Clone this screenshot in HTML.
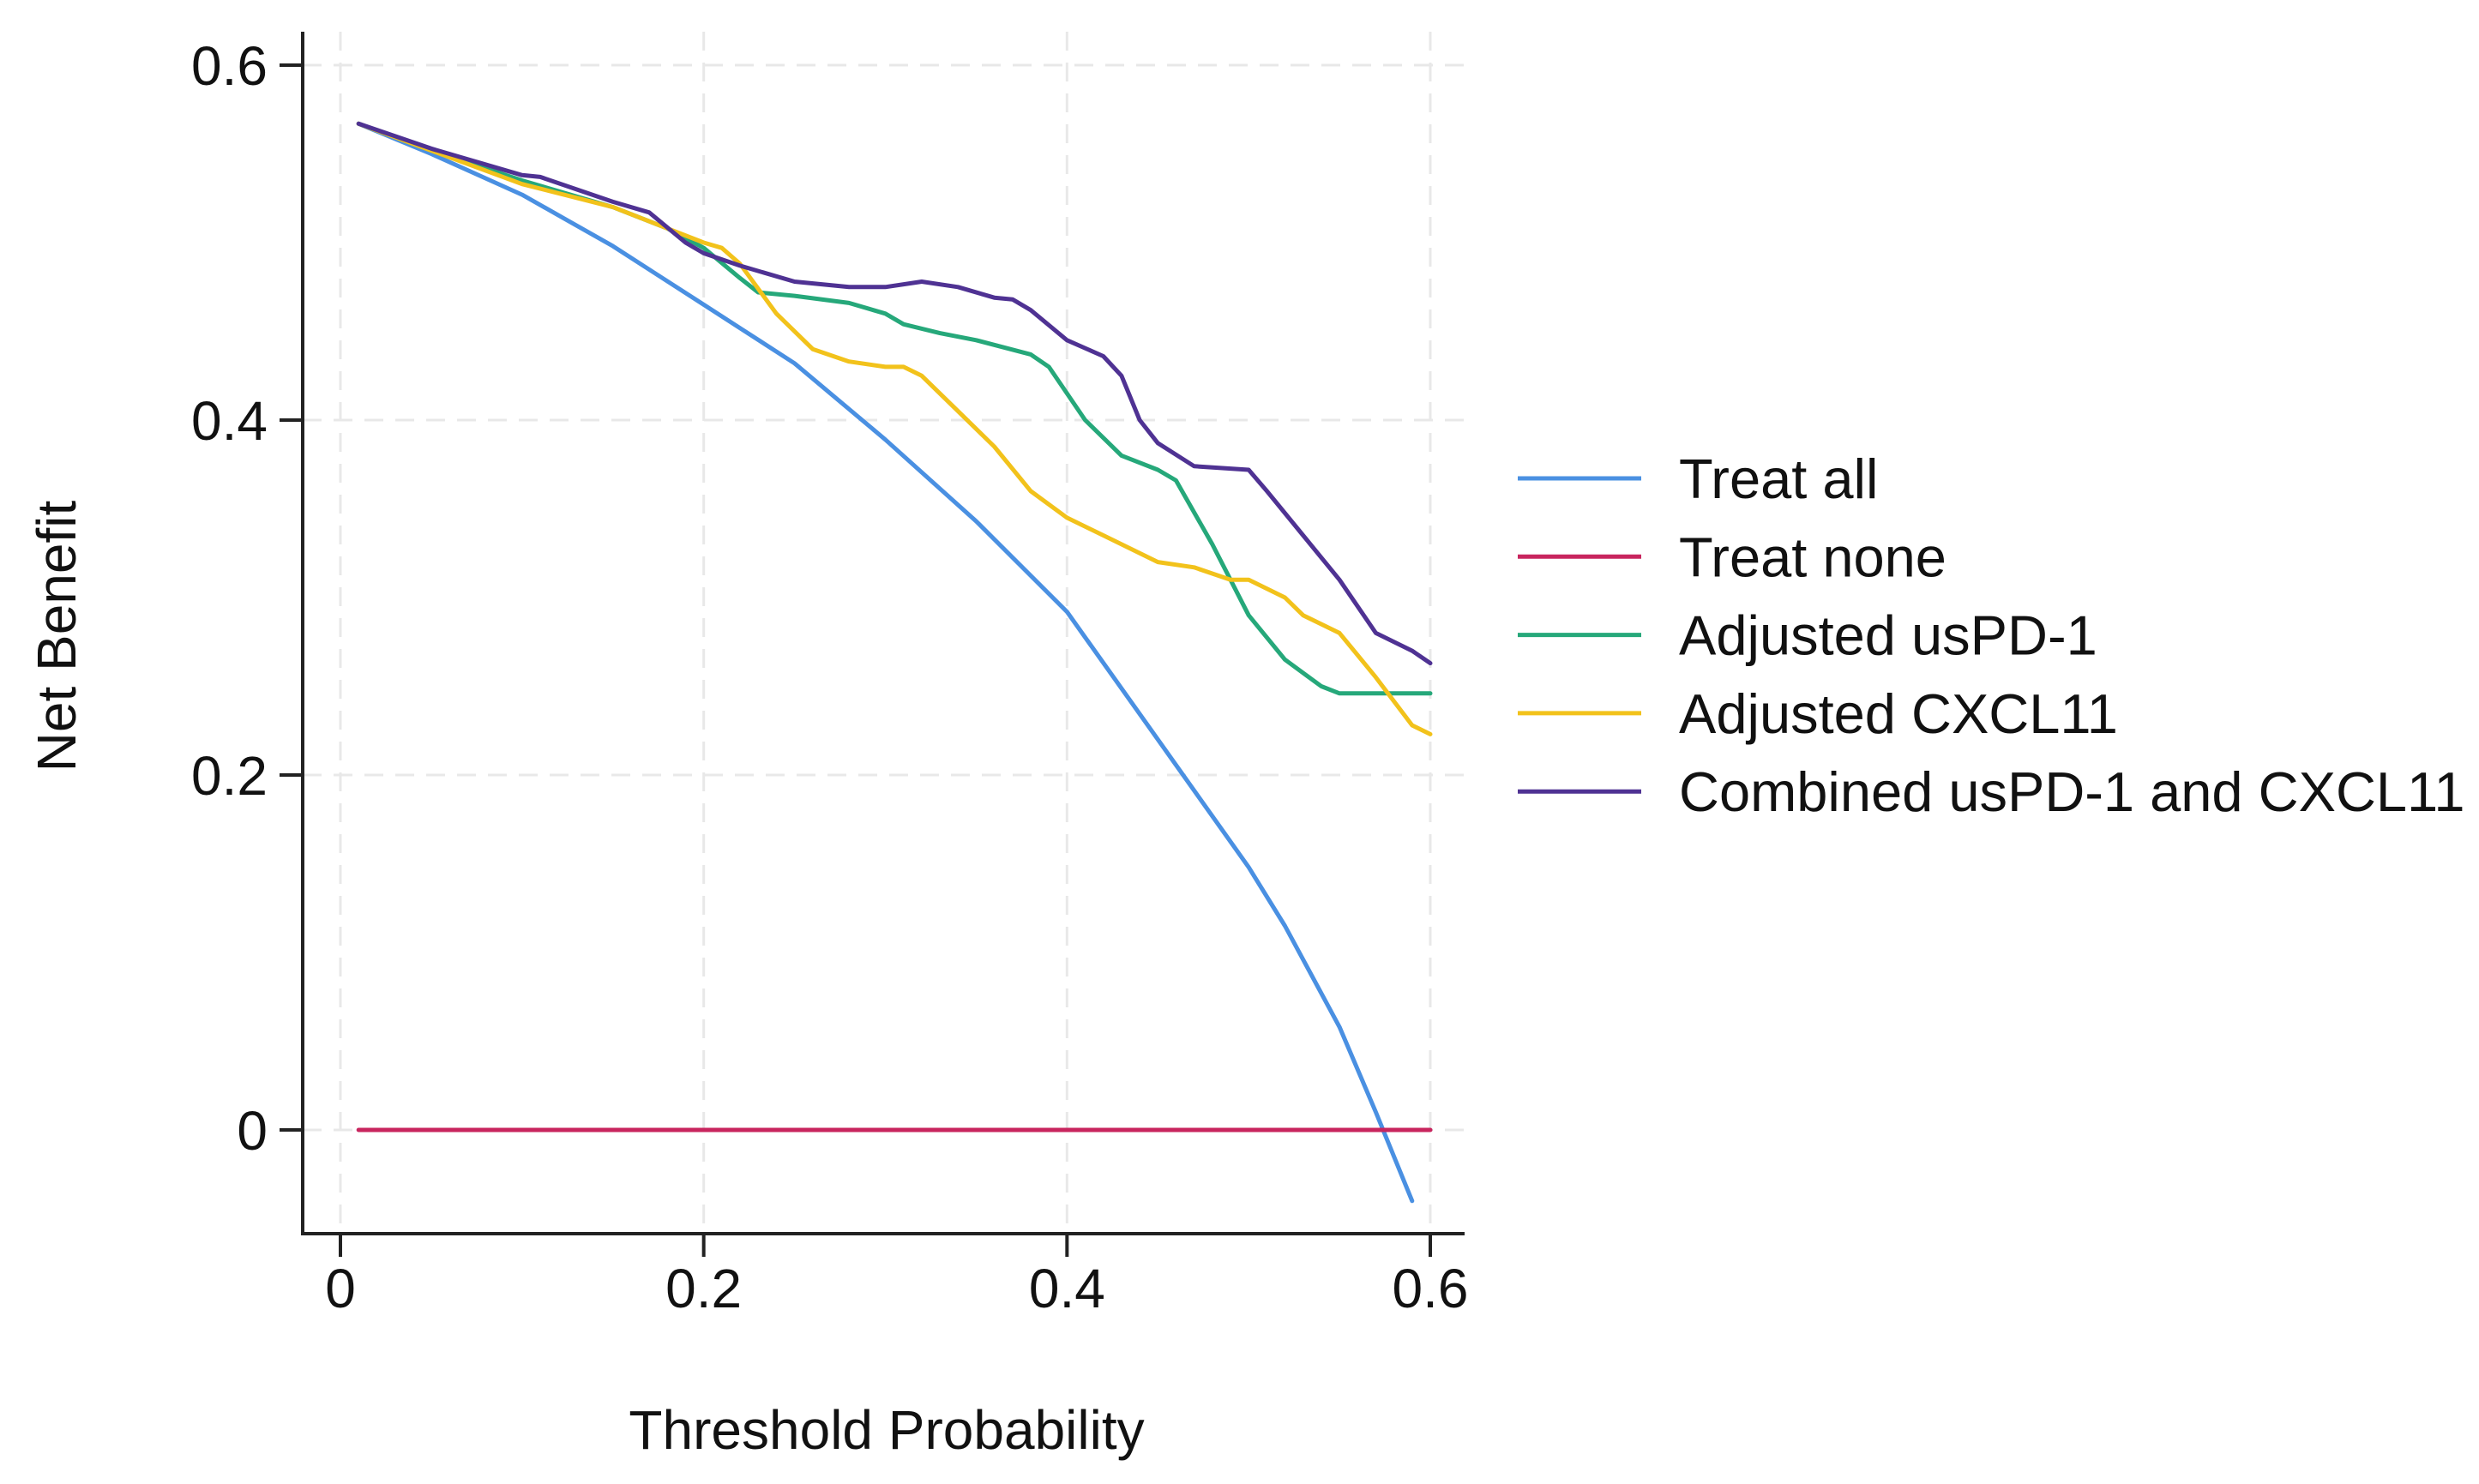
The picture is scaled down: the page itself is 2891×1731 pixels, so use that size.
<!DOCTYPE html>
<html><head><meta charset="utf-8"><style>
html,body{margin:0;padding:0;background:#fff;}
svg{display:block;font-family:"Liberation Sans",Arial,sans-serif;}
</style></head><body>
<svg id="chart" width="2891" height="1731" viewBox="0 0 2891 1731" xmlns="http://www.w3.org/2000/svg">
<rect width="2891" height="1731" fill="#fff"/>
<g id="grid"></g>
<g id="axes"></g>
<g id="series"></g>
<g id="legend"></g>
<text x="0" y="0" transform="translate(88,742) rotate(-90)" text-anchor="middle" font-size="64" fill="#111">Net Benefit</text>
<text x="1034" y="1690" text-anchor="middle" font-size="64" fill="#111">Threshold Probability</text>
</svg>
<script>
const xTicks = [0, 0.2, 0.4, 0.6];
const yTicks = [0, 0.2, 0.4, 0.6];
const xTickLabels = ["0", "0.2", "0.4", "0.6"];
const yTickLabels = ["0", "0.2", "0.4", "0.6"];
const seriesNames = ["Treat all", "Treat none", "Adjusted usPD-1", "Adjusted CXCL11", "Combined usPD-1 and CXCL11"];
const treatAllX = [0.01,0.05,0.1,0.15,0.2,0.25,0.3,0.35,0.4,0.45,0.5,0.52,0.55,0.57,0.59];
const treatAllY = [0.567,0.55,0.527,0.498,0.465,0.432,0.389,0.343,0.292,0.22,0.148,0.115,0.058,0.01,-0.04];
const treatNoneX = [0.01,0.6];
const treatNoneY = [0,0];
const usPD1X = [0.01,0.05,0.1,0.15,0.18,0.2,0.22,0.23,0.25,0.28,0.3,0.31,0.33,0.35,0.38,0.39,0.41,0.43,0.45,0.46,0.48,0.5,0.52,0.54,0.55,0.6];
const usPD1Y = [0.567,0.552,0.535,0.52,0.508,0.497,0.48,0.472,0.47,0.466,0.46,0.454,0.449,0.445,0.437,0.43,0.4,0.38,0.372,0.366,0.33,0.29,0.265,0.25,0.246,0.246];
const cxcl11X = [0.01,0.1,0.15,0.18,0.2,0.21,0.22,0.24,0.26,0.28,0.3,0.31,0.32,0.34,0.36,0.38,0.4,0.42,0.45,0.47,0.49,0.5,0.52,0.53,0.55,0.57,0.59,0.6];
const cxcl11Y = [0.567,0.533,0.52,0.508,0.5,0.497,0.488,0.46,0.44,0.433,0.43,0.43,0.425,0.405,0.385,0.36,0.345,0.335,0.32,0.317,0.31,0.31,0.3,0.29,0.28,0.255,0.228,0.223];
const combinedX = [0.01,0.05,0.1,0.11,0.15,0.17,0.19,0.2,0.22,0.25,0.28,0.3,0.32,0.34,0.36,0.37,0.38,0.4,0.42,0.43,0.44,0.45,0.47,0.5,0.51,0.53,0.55,0.57,0.59,0.6];
const combinedY = [0.567,0.553,0.538,0.537,0.523,0.517,0.5,0.494,0.487,0.478,0.475,0.475,0.478,0.475,0.469,0.468,0.462,0.445,0.436,0.425,0.4,0.387,0.374,0.372,0.36,0.335,0.31,0.28,0.27,0.263];

const NS = "http://www.w3.org/2000/svg";
const X0 = 397, X1 = 1668, Y0 = 1318, Y1 = 76;
function sx(v){ return X0 + (v - 0) / 0.6 * (X1 - X0); }
function sy(v){ return Y0 - (v - 0) / 0.6 * (Y0 - Y1); }
function mk(tag, attrs, parent){
  const e = document.createElementNS(NS, tag);
  for (const k in attrs) e.setAttribute(k, attrs[k]);
  parent.appendChild(e);
  return e;
}
const grid = document.getElementById('grid');
const axes = document.getElementById('axes');
const series = document.getElementById('series');
const legend = document.getElementById('legend');

xTicks.forEach((t, i) => {
  const g = mk('line', {x1: sx(t), x2: sx(t), y1: 37, y2: 1439, stroke: '#e8e8e8', 'stroke-width': 3, 'stroke-dasharray': '22 14'}, grid);
  
  
  const tk = mk('line', {x1: sx(t), x2: sx(t), y1: 1439, y2: 1466, stroke: '#222', 'stroke-width': 4}, axes);
  
  
  const tl = mk('text', {x: sx(t), y: 1525, 'text-anchor': 'middle', 'font-size': 64, fill: '#111'}, axes);
  tl.textContent = xTickLabels[i];
  
  
});
yTicks.forEach((t, i) => {
  const g = mk('line', {x1: 353, x2: 1708, y1: sy(t), y2: sy(t), stroke: '#e8e8e8', 'stroke-width': 3, 'stroke-dasharray': '22 14'}, grid);
  
  
  const tk = mk('line', {x1: 326, x2: 353, y1: sy(t), y2: sy(t), stroke: '#222', 'stroke-width': 4}, axes);
  
  
  const tl = mk('text', {x: 312, y: sy(t) + 23, 'text-anchor': 'end', 'font-size': 64, fill: '#111'}, axes);
  tl.textContent = yTickLabels[i];
  
  
});
const ya = mk('line', {x1: 353, x2: 353, y1: 37, y2: 1441, stroke: '#222', 'stroke-width': 4}, axes);


const xa = mk('line', {x1: 351, x2: 1708, y1: 1439, y2: 1439, stroke: '#222', 'stroke-width': 4}, axes);



const colors = ['#4a90e2', '#c8255e', '#26a87a', '#f2c21b', '#4f3293'];
const xs = [treatAllX, treatNoneX, usPD1X, cxcl11X, combinedX];
const ys = [treatAllY, treatNoneY, usPD1Y, cxcl11Y, combinedY];
const names = ['treat-all-line', 'treat-none-line', 'adjusted-uspd1-line', 'adjusted-cxcl11-line', 'combined-line'];
xs.forEach((X, k) => {
  const Y = ys[k];
  const pts = X.map((v, i) => sx(v).toFixed(1) + ',' + sy(Y[i]).toFixed(1)).join(' ');
  const p = mk('polyline', {points: pts, fill: 'none', stroke: colors[k], 'stroke-width': 5, 'stroke-linejoin': 'round', 'stroke-linecap': 'round'}, series);
  
  
});
const legendNames = ['legend-treat-all', 'legend-treat-none', 'legend-adjusted-uspd1', 'legend-adjusted-cxcl11', 'legend-combined'];
seriesNames.forEach((n, k) => {
  const y = 558 + k * 91.3;
  const g = mk('g', {}, legend);
  
  
  mk('line', {x1: 1770, x2: 1914, y1: y, y2: y, stroke: colors[k], 'stroke-width': 5}, g);
  const t = mk('text', {x: 1958, y: y + 23, 'font-size': 65, fill: '#111'}, g);
  t.textContent = n;
});
</script>
</body></html>
